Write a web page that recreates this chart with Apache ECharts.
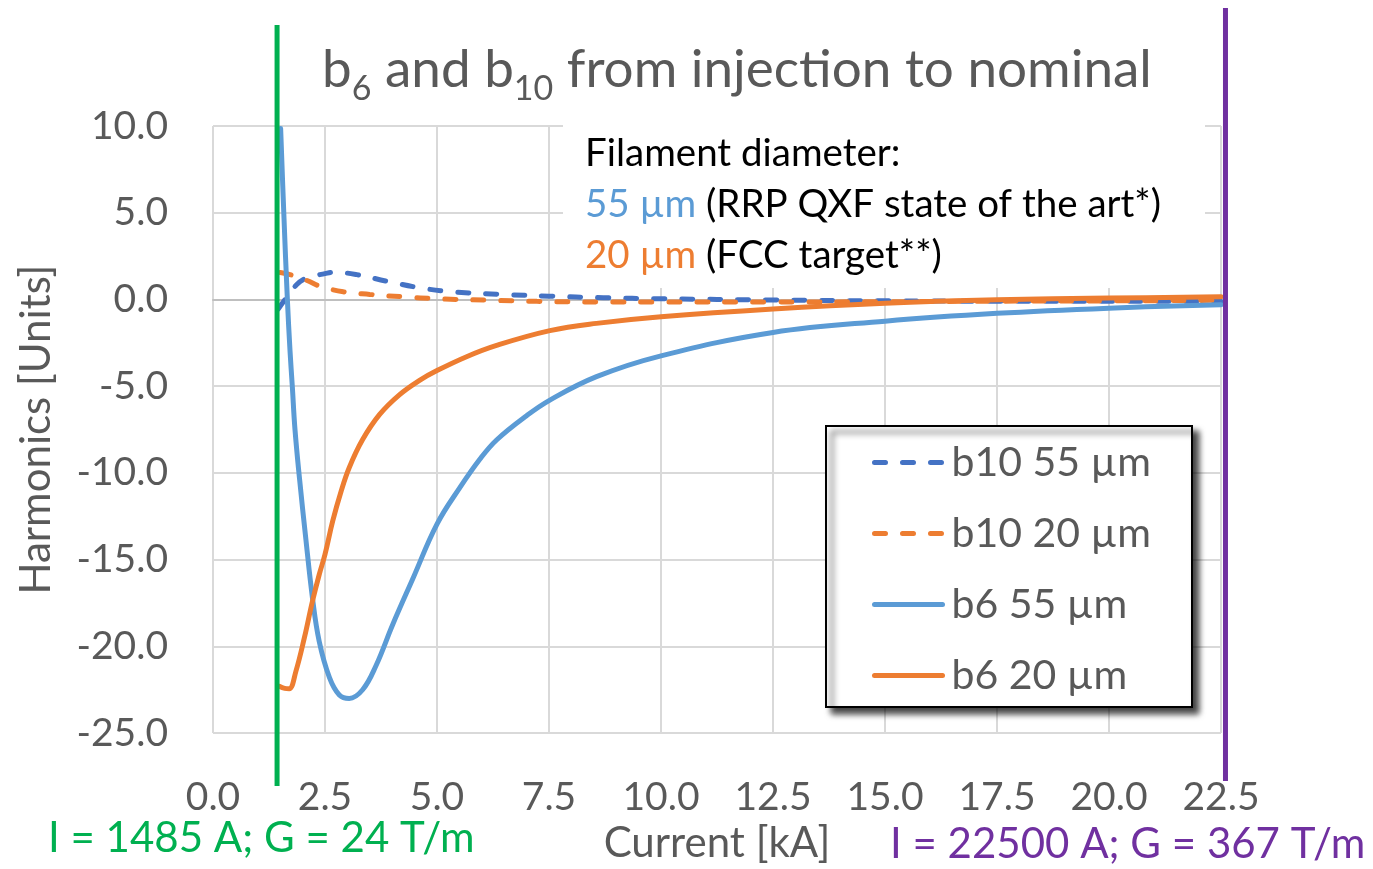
<!DOCTYPE html>
<html>
<head>
<meta charset="utf-8">
<script src="https://cdn.jsdelivr.net/npm/echarts@6/dist/echarts.min.js"></script>
<style>
  html, body { margin: 0; padding: 0; background: #fff; }
  #chart { width: 1373px; height: 869px; }
</style>
</head>
<body>
<div id="chart"></div>
<script>
// 电流 kA / 谐波 units
const b10_55_I = [1.46, 1.64, 1.87, 2.09, 2.5, 2.69, 3.21, 3.88, 4.62, 5.36, 6.48, 7.5, 8.71, 10.0, 12.5, 15.0, 17.5, 20.0, 22.5]
const b10_55_val = [-0.54, 0.1, 0.86, 1.24, 1.49, 1.57, 1.43, 1.05, 0.67, 0.44, 0.29, 0.19, 0.1, 0.04, -0.03, -0.08, -0.1, -0.1, -0.1]

const b10_20_I = [1.5, 1.72, 2.09, 2.39, 2.91, 3.5, 4.25, 5.0, 6.11, 7.23, 8.71, 10.0, 12.5, 15.0, 17.5, 20.0, 22.5]
const b10_20_val = [1.55, 1.43, 1.1, 0.76, 0.44, 0.29, 0.15, 0.04, -0.04, -0.11, -0.15, -0.15, -0.15, -0.13, -0.1, -0.08, -0.05]

const b6_55_I = [1.51, 1.58, 1.66, 1.72, 1.77, 1.83, 1.93, 2.07, 2.22, 2.37, 2.6, 2.82, 3.04, 3.34, 3.64, 4.01, 4.46, 5.0, 5.51, 5.96, 6.33, 7.0, 7.52, 8.56, 10.0, 12.5, 15.0, 17.5, 20.0, 22.5]
const b6_55_val = [9.85, 5.0, 0.0, -3.0, -5.0, -7.5, -10.3, -13.75, -17.2, -19.7, -21.8, -22.8, -23.0, -22.5, -21.1, -18.75, -16.1, -12.95, -10.85, -9.2, -8.1, -6.7, -5.8, -4.45, -3.25, -1.9, -1.25, -0.8, -0.5, -0.3]

const b6_20_I = [1.48, 1.6, 1.7, 1.85, 2.04, 2.22, 2.37, 2.5, 2.67, 2.86, 3.04, 3.34, 3.72, 4.16, 4.62, 5.0, 5.66, 6.33, 7.52, 8.56, 10.0, 12.5, 15.0, 17.5, 20.0, 22.5]
const b6_20_val = [-22.3, -22.42, -22.44, -21.44, -19.5, -17.4, -15.87, -14.7, -12.8, -11.06, -9.7, -8.08, -6.63, -5.5, -4.65, -4.1, -3.3, -2.65, -1.8, -1.38, -1.0, -0.55, -0.22, -0.02, 0.08, 0.15]

// 竖线位置 (kA)：注入 1485 A，额定 22500 A
const injectionLineKA = 1.43
const nominalLineKA = 22.6

const xMin = 0, xMax = 22.5, xStep = 2.5
const yMin = -25, yMax = 10, yStep = 5

const fontFamily = 'Lato, "Noto Sans", sans-serif'
const grey = '#595959'

function zip(xs, ys) {
  return xs.map((x, i) => [x, ys[i]])
}

const myChart = echarts.init(document.getElementById('chart'))

const lineSeries = [
  { name: 'b10 55 µm', I: b10_55_I, v: b10_55_val, color: '#4472C4', dashed: true },
  { name: 'b10 20 µm', I: b10_20_I, v: b10_20_val, color: '#ED7D31', dashed: true },
  { name: 'b6 55 µm', I: b6_55_I, v: b6_55_val, color: '#5B9BD5', dashed: false },
  { name: 'b6 20 µm', I: b6_20_I, v: b6_20_val, color: '#ED7D31', dashed: false }
]

let series = []
lineSeries.forEach((item, index) => {
  series.push({
    name: item.name,
    type: 'line',
    data: zip(item.I, item.v),
    showSymbol: false,
    symbol: 'none',
    smooth: 0.4,
    z: 2 + index,
    itemStyle: { color: item.color },
    lineStyle: {
      color: item.color,
      width: 5,
      type: item.dashed ? [11, 17] : 'solid',
      cap: 'round'
    }
  })
})

myChart.setOption({
  animation: false,
  textStyle: { fontFamily },
  title: {
    text: '{m|b}{s|6}{m| and b}{s|10}{m| from injection to nominal}',
    left: 322,
    top: 34,
    padding: 0,
    textStyle: {
      fontWeight: 'normal',
      rich: {
        m: { fontFamily, fontSize: 53, fontWeight: 'normal', color: grey, lineHeight: 64, verticalAlign: 'middle' },
        s: { fontFamily, fontSize: 34, fontWeight: 'normal', color: grey, verticalAlign: 'top', padding: [38, 0, 0, 0] }
      }
    }
  },
  grid: { left: 213, right: 152, top: 126, bottom: 133 },
  legend: {
    orient: 'vertical',
    left: 872,
    top: 442,
    padding: 0,
    itemGap: 30,
    itemWidth: 68,
    itemHeight: 1,
    z: 10,
    selectedMode: false,
    lineStyle: { width: 5 },
    textStyle: { fontFamily, fontSize: 41, color: grey, lineHeight: 40, padding: [0, 0, 0, 4] },
    data: lineSeries.map(s => s.name)
  },
  xAxis: {
    type: 'value',
    min: xMin,
    max: xMax,
    interval: xStep,
    name: 'Current [kA]',
    nameLocation: 'middle',
    nameGap: 88,
    nameTextStyle: { fontFamily, fontSize: 42, color: grey },
    axisLine: { show: true, lineStyle: { color: '#bfbfbf', width: 2 } },
    axisTick: { show: false },
    axisLabel: {
      margin: 45,
      fontFamily,
      fontSize: 39,
      color: grey,
      formatter: v => v.toFixed(1)
    },
    splitLine: { show: true, lineStyle: { color: '#d9d9d9', width: 2 } }
  },
  yAxis: {
    type: 'value',
    min: yMin,
    max: yMax,
    interval: yStep,
    name: 'Harmonics [Units]',
    nameLocation: 'middle',
    nameGap: 156,
    nameTextStyle: { fontFamily, fontSize: 42, color: grey },
    axisLine: { show: false },
    axisTick: { show: false },
    axisLabel: {
      margin: 45,
      fontFamily,
      fontSize: 39,
      color: grey,
      formatter: v => v.toFixed(1)
    },
    splitLine: { show: true, lineStyle: { color: '#d9d9d9', width: 2 } }
  },
  series
})

// 注释、图例框、竖线
const xInj = myChart.convertToPixel({ xAxisIndex: 0 }, injectionLineKA)
const xNom = myChart.convertToPixel({ xAxisIndex: 0 }, nominalLineKA)

myChart.setOption({
  graphic: [
    {
      type: 'rect',
      z: 3,
      shape: { x: 563, y: 122, width: 642, height: 166 },
      style: { fill: '#fff' }
    },
    {
      type: 'text',
      z: 4,
      left: 585,
      top: 128,
      style: {
        text: 'Filament diameter:\n{b|55 µm} (RRP QXF state of the art*)\n{o|20 µm} (FCC target**)',
        fontFamily,
        fontSize: 38.5,
        lineHeight: 51,
        fill: '#000',
        rich: {
          b: { fontFamily, fontSize: 38.5, lineHeight: 51, fill: '#5B9BD5', color: '#5B9BD5' },
          o: { fontFamily, fontSize: 38.5, lineHeight: 51, fill: '#ED7D31', color: '#ED7D31' }
        }
      }
    },
    {
      type: 'rect',
      z: 5,
      shape: { x: 826, y: 426, width: 366, height: 281 },
      style: {
        fill: '#fff',
        stroke: '#000',
        lineWidth: 2,
        shadowBlur: 6,
        shadowOffsetX: 6,
        shadowOffsetY: 6,
        shadowColor: 'rgba(0,0,0,0.75)'
      }
    },
    {
      type: 'line',
      z: 20,
      shape: { x1: xInj, y1: 25, x2: xInj, y2: 786 },
      style: { stroke: '#00B050', lineWidth: 5 }
    },
    {
      type: 'line',
      z: 20,
      shape: { x1: xNom, y1: 8, x2: xNom, y2: 781 },
      style: { stroke: '#7030A0', lineWidth: 5 }
    },
    {
      type: 'text',
      z: 20,
      left: 48,
      top: 817,
      style: { text: 'I = 1485 A; G = 24 T/m', fontFamily, fontSize: 42, fill: '#00B050' }
    },
    {
      type: 'text',
      z: 20,
      left: 890,
      top: 823,
      style: { text: 'I = 22500 A; G = 367 T/m', fontFamily, fontSize: 42, fill: '#7030A0' }
    }
  ]
})
</script>
</body>
</html>
